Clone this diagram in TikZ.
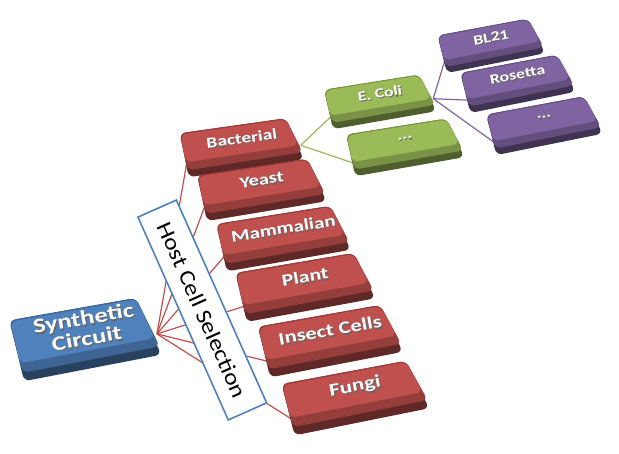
\documentclass[tikz,border=0pt]{standalone}
\usepackage{fontspec}
\setmainfont{Carlito}
\usetikzlibrary{backgrounds}

\definecolor{capred}{HTML}{C0504D}
\definecolor{capblue}{HTML}{4F81BD}
\definecolor{capgreen}{HTML}{9BBB59}
\definecolor{cappurple}{HTML}{8064A2}

\tikzset{
    caplabel/.style={text=white, align=center,
        inner sep=0pt, transform shape, rotate=8, xscale=1.3},
    capshade/.style={caplabel, text=black!60},
    link/.style={line width=1.2pt},
    hostbox/.style={draw=capblue, line width=1.6pt, fill=white, rotate=-66,
        minimum width=222pt, minimum height=42pt, inner sep=0pt,
        font=\fontsize{22}{24}\selectfont}
}

% key cap: [font size], name, x, y, scale, extra turn, extra height, colour, label
\newcommand\keycap[9][15]{
    \begin{scope}[shift={(#3,#4)}, scale=#5, rotate=#6,
            every node/.append style={font=\bfseries\fontsize{#1}{17}\selectfont}]
        \pgfmathsetmacro\capdy{#7/2}
        \pgfmathsetmacro\capdx{0.21*#7/2}
        % body, bevel, flat top
        \fill[#8!50!black, rounded corners=6] (-62-\capdx,-5-\capdy) -- (44-\capdx,-20-\capdy)
            -- (62+\capdx,21+\capdy) -- (-53+\capdx,39+\capdy) -- cycle;
        \fill[#8!78!black, rounded corners=6] (-62-\capdx,-5-\capdy) -- (44-\capdx,-20-\capdy)
            -- (61+\capdx,14+\capdy) -- (-54+\capdx,32+\capdy) -- cycle;
        \fill[#8, rounded corners=6] (-61-\capdx,-4-\capdy) -- (44-\capdx,-19-\capdy)
            -- (57+\capdx,7+\capdy) -- (-56+\capdx,24+\capdy) -- cycle;
        \node[capshade] at (1,1.4) {#9};
        \node[caplabel] (#2) at (0,0) {#9};
        \coordinate (#2-in) at (-55+\capdx,25+\capdy);
        \coordinate (#2-out) at (59+\capdx,7);
    \end{scope}
}

\begin{document}
\begin{tikzpicture}[x=1pt, y=-1pt]
\useasboundingbox (0,0) rectangle (619,453);

% Root
\keycap[17]{synth}{85}{328}{1.2}{2}{7}{capblue}{Synthetic\\Circuit}

% Hosts
\keycap{bact}{241.7}{138.3}{1.00}{0}{0}{capred}{Bacterial}
\keycap{yeast}{261.7}{180}{1.04}{0.5}{0}{capred}{Yeast}
\keycap{mamm}{283.3}{228.3}{1.08}{1}{0}{capred}{Mammalian}
\keycap{plant}{305}{276.7}{1.12}{1.5}{0}{capred}{Plant}
\keycap{insect}{330}{330}{1.16}{2}{0}{capred}{Insect Cells}
\keycap{fungi}{355}{386.7}{1.18}{2.5}{0}{capred}{Fungi}

% Bacteria
\keycap{ecoli}{380}{93.3}{0.90}{1}{0}{capgreen}{E. Coli}
\keycap{gmore}{405}{138.3}{0.95}{1}{0}{capgreen}{...}

% Strains
\keycap[16]{bl}{491}{37.5}{0.86}{2.5}{0}{cappurple}{BL21}
\keycap{ros}{517.5}{75}{0.92}{2.5}{0}{cappurple}{Rosetta}
\keycap{pmore}{544}{116.7}{0.93}{2.5}{0}{cappurple}{...}

\begin{scope}[on background layer]
    \foreach \c in {bact,yeast,mamm,plant,insect,fungi}
        \draw[link, capred] (synth-out) -- (\c-in);
    \foreach \c in {ecoli,gmore}
        \draw[link, capgreen] (bact-out) -- (\c-in);
    \foreach \c in {bl,ros,pmore}
        \draw[link, cappurple] (ecoli-out) -- (\c-in);
    \node[hostbox] (host) at (202.3,310) {\scalebox{1.15}[1]{Host Cell Selection}};
\end{scope}

\end{tikzpicture}
\end{document}
